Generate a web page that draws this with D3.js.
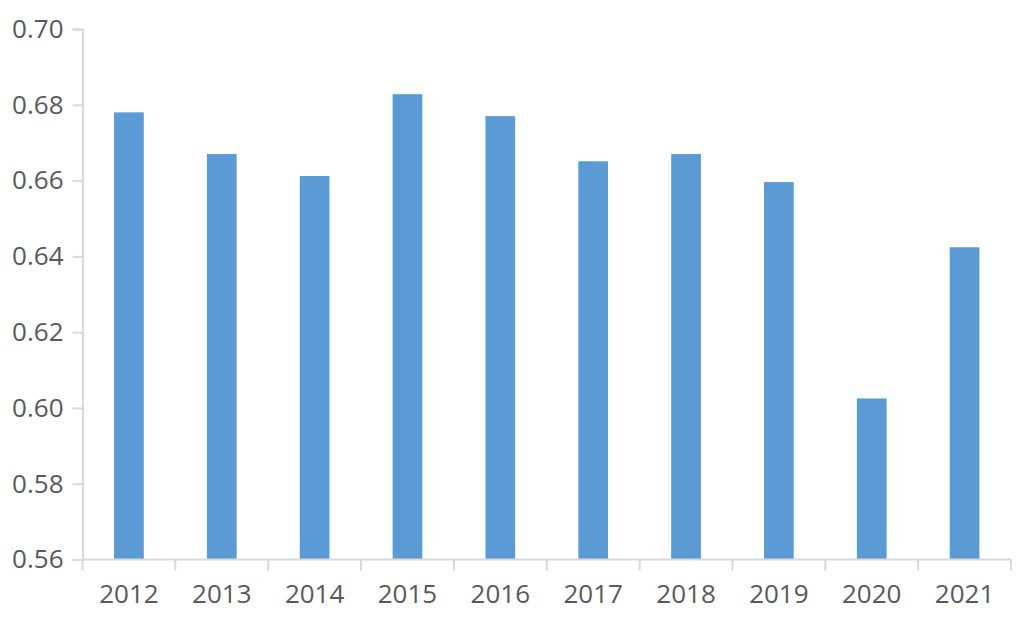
<!DOCTYPE html>
<html><head><meta charset="utf-8">
<script src="https://cdn.jsdelivr.net/npm/d3@7"></script>
<style>body{margin:0;background:#fff}svg{display:block}</style>
</head><body><svg id="c" width="1029" height="625"></svg>
<script>
const categories = ["2012","2013","2014","2015","2016","2017","2018","2019","2020","2021"];
const values = [0.678, 0.667, 0.6612, 0.6828, 0.677, 0.6651, 0.667, 0.6596, 0.6025, 0.6424];
const yTicks = [0.56, 0.58, 0.60, 0.62, 0.64, 0.66, 0.68, 0.70];

const svg = d3.select("#c");
const m = {left: 82.5, right: 1011, top: 29, bottom: 559.5};
const x = d3.scaleBand().domain(categories).range([m.left, m.right]).paddingInner(0.68).paddingOuter(0.34);
const y = d3.scaleLinear().domain([0.56, 0.70]).range([m.bottom, m.top]);
const font = "'Open Sans', sans-serif";
const axisColor = "#d9d9d9";
const textColor = "#595959";

svg.append("g").selectAll("rect").data(values).join("rect")
  .attr("x", (d,i) => x(categories[i]))
  .attr("width", x.bandwidth())
  .attr("y", d => y(d))
  .attr("height", d => y(0.56) - y(d))
  .attr("fill", "#5b9bd5");

const ya = svg.append("g").attr("transform", `translate(${m.left},0)`)
  .call(d3.axisLeft(y).tickValues(yTicks).tickFormat(d3.format(".2f")).tickSize(10).tickPadding(9));
ya.select(".domain").attr("stroke", axisColor).attr("stroke-width", 2);
ya.selectAll(".tick line").attr("stroke", axisColor).attr("stroke-width", 2);
ya.selectAll("text").attr("fill", textColor).style("font-family", font).style("font-size", "26px");

const xb = d3.scaleBand().domain(categories).range([m.left, m.right]);
const xa = svg.append("g").attr("transform", `translate(0,${m.bottom})`)
  .call(d3.axisBottom(x).tickSize(0).tickPadding(25));
xa.select(".domain").remove();
svg.append("line").attr("x1", m.left).attr("x2", m.right).attr("y1", m.bottom).attr("y2", m.bottom)
  .attr("stroke", axisColor).attr("stroke-width", 2);
svg.append("g").selectAll("line").data(categories.concat(["end"])).join("line")
  .attr("x1", (d,i) => i < categories.length ? xb(d) : m.right)
  .attr("x2", (d,i) => i < categories.length ? xb(d) : m.right)
  .attr("y1", m.bottom).attr("y2", m.bottom + 11)
  .attr("stroke", axisColor).attr("stroke-width", 2);
xa.selectAll("text").attr("fill", textColor).style("font-family", font).style("font-size", "26px");
</script></body></html>
